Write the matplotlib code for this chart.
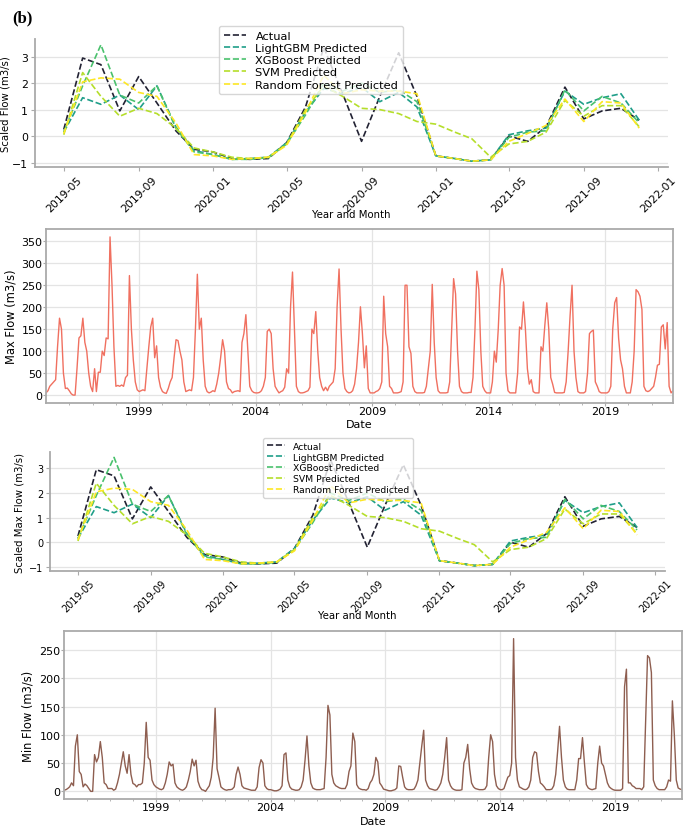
import matplotlib
matplotlib.use("Agg")
import matplotlib.pyplot as plt
import matplotlib.dates as mdates
import pandas as pd

# monthly test period for the scaled panels (2019-05 .. 2021-12)
months = pd.date_range("2019-05-01", "2021-12-01", freq="MS")

actual = [0.25, 2.95, 2.7, 0.95, 2.25, 1.25, 0.2, -0.5,
          -0.6, -0.85, -0.88, -0.85, -0.25, 1.1, 3.35, 1.6, -0.2, 1.5, 3.15, 1.5,
          -0.75, -0.85, -0.95, -0.9, 0.0, -0.2, 0.35, 1.85, 0.65, 0.95, 1.05, 0.6]
lgbm = [0.15, 1.45, 1.2, 1.55, 1.0, 1.9, 0.35, -0.55,
        -0.7, -0.88, -0.85, -0.8, -0.25, 0.9, 1.8, 1.6, 1.85, 1.3, 1.65, 1.1,
        -0.75, -0.85, -0.95, -0.9, 0.05, 0.2, 0.3, 1.7, 1.2, 1.45, 1.6, 0.6]
xgb = [0.15, 1.9, 3.45, 1.55, 1.25, 1.9, 0.3, -0.6,
       -0.7, -0.88, -0.88, -0.82, -0.3, 0.8, 2.0, 1.7, 2.0, 1.65, 1.75, 1.3,
       -0.75, -0.85, -0.95, -0.9, -0.05, 0.15, 0.2, 1.75, 0.95, 1.5, 1.25, 0.5]
svm = [0.05, 2.4, 1.5, 0.75, 1.05, 0.85, 0.3, -0.45,
       -0.6, -0.8, -0.85, -0.8, -0.3, 1.0, 1.9, 1.5, 1.05, 1.0, 0.85, 0.55,
       0.45, 0.15, -0.1, -0.8, -0.3, -0.2, 0.15, 1.35, 0.75, 1.15, 1.15, 0.35]
rf = [0.1, 2.05, 2.2, 2.15, 1.65, 1.5, 0.5, -0.7,
      -0.75, -0.88, -0.85, -0.8, -0.35, 0.9, 2.3, 1.6, 1.75, 1.7, 1.7, 1.6,
      -0.75, -0.85, -0.95, -0.9, -0.2, 0.1, 0.4, 1.4, 0.55, 1.3, 1.25, 0.3]

labels = ["Actual", "LightGBM Predicted", "XGBoost Predicted",
          "SVM Predicted", "Random Forest Predicted"]
colors = ["#222233", "#1f9e89", "#4ac16d", "#b5de2b", "#fde725"]

# monthly flow record 1995-01 .. 2021-12, one row per year
flow_dates = pd.date_range("1995-01-01", "2021-12-01", freq="MS")
max_flow = [
    5, 10, 20, 25, 30, 35, 110, 175, 150, 50, 15, 16,      # 1995
    10, 3, 0, 0, 60, 130, 135, 175, 120, 100, 50, 20,      # 1996
    8, 60, 8, 52, 52, 100, 90, 130, 128, 360, 250, 110,    # 1997
    20, 22, 20, 23, 20, 40, 45, 272, 150, 80, 30, 12,      # 1998
    8, 10, 12, 10, 60, 110, 155, 175, 85, 112, 40, 18,     # 1999
    8, 5, 4, 15, 30, 40, 85, 126, 124, 100, 80, 30,        # 2000
    8, 10, 12, 10, 40, 150, 275, 150, 175, 80, 20, 8,      # 2001
    5, 7, 10, 8, 25, 50, 85, 126, 100, 30, 15, 12,         # 2002
    5, 8, 9, 10, 8, 120, 140, 183, 100, 20, 10, 6,         # 2003
    5, 5, 6, 10, 20, 40, 145, 150, 140, 60, 20, 12,        # 2004
    5, 8, 10, 18, 60, 50, 200, 280, 150, 20, 8, 5,         # 2005
    5, 6, 8, 10, 18, 150, 140, 190, 100, 40, 20, 10,       # 2006
    18, 10, 20, 25, 30, 60, 200, 287, 150, 50, 15, 8,      # 2007
    5, 6, 10, 25, 60, 120, 201, 140, 62, 112, 15, 5,       # 2008
    5, 5, 8, 10, 15, 30, 225, 140, 110, 20, 15, 5,         # 2009
    5, 5, 6, 8, 30, 250, 250, 110, 95, 20, 8, 5,           # 2010
    5, 5, 5, 6, 20, 60, 100, 252, 120, 40, 10, 5,          # 2011
    5, 5, 5, 6, 30, 150, 265, 230, 100, 20, 8, 5,          # 2012
    5, 5, 6, 6, 40, 150, 282, 240, 100, 20, 10, 5,         # 2013
    5, 5, 30, 100, 75, 150, 250, 288, 250, 50, 10, 5,      # 2014
    5, 5, 5, 50, 155, 150, 212, 150, 60, 25, 35, 8,        # 2015
    5, 5, 5, 110, 100, 160, 210, 150, 40, 25, 6, 5,        # 2016
    5, 5, 5, 6, 30, 100, 180, 250, 100, 40, 8, 5,          # 2017
    5, 5, 8, 50, 140, 145, 148, 30, 20, 8, 5, 5,           # 2018
    5, 5, 8, 20, 150, 210, 222, 130, 80, 60, 20, 5,        # 2019
    5, 5, 30, 100, 240, 235, 225, 195, 20, 10, 8, 10,      # 2020
    15, 20, 40, 68, 70, 155, 160, 105, 165, 20, 5, 10,     # 2021
]
min_flow = [
    2, 3, 5, 8, 15, 10, 80, 100, 35, 30, 8, 13,            # 1995
    10, 5, 0, 0, 65, 52, 60, 88, 60, 15, 12, 5,            # 1996
    5, 5, 2, 4, 15, 30, 50, 70, 45, 32, 65, 30,            # 1997
    14, 12, 8, 12, 12, 15, 50, 122, 60, 55, 20, 12,        # 1998
    8, 6, 4, 3, 5, 15, 30, 52, 45, 48, 15, 8,              # 1999
    5, 3, 2, 4, 8, 20, 35, 57, 45, 55, 18, 8,              # 2000
    3, 2, 0, 5, 10, 25, 60, 147, 40, 25, 8, 5,             # 2001
    3, 2, 3, 3, 4, 8, 30, 43, 30, 10, 6, 5,                # 2002
    4, 3, 2, 2, 2, 8, 42, 56, 50, 10, 5, 3,                # 2003
    3, 2, 1, 1, 2, 4, 10, 65, 68, 20, 8, 4,                # 2004
    3, 2, 2, 3, 8, 20, 55, 98, 45, 15, 6, 4,               # 2005
    3, 3, 3, 4, 5, 60, 152, 135, 30, 15, 10, 8,            # 2006
    6, 5, 5, 5, 12, 35, 45, 103, 88, 12, 6, 4,             # 2007
    3, 3, 2, 5, 15, 20, 30, 60, 52, 15, 10, 4,             # 2008
    3, 2, 1, 1, 2, 3, 6, 45, 44, 25, 8, 4,                 # 2009
    3, 3, 3, 4, 10, 20, 50, 80, 108, 20, 10, 5,            # 2010
    4, 3, 2, 3, 8, 15, 30, 60, 95, 20, 10, 5,              # 2011
    3, 2, 2, 2, 3, 50, 60, 83, 40, 15, 8, 5,               # 2012
    4, 3, 3, 3, 4, 10, 60, 100, 88, 30, 10, 5,             # 2013
    3, 3, 5, 15, 25, 28, 50, 270, 60, 20, 8, 6,            # 2014
    4, 3, 4, 8, 20, 60, 70, 68, 35, 15, 12, 8,             # 2015
    3, 3, 3, 4, 10, 30, 70, 115, 60, 20, 8, 4,             # 2016
    3, 3, 3, 3, 20, 58, 58, 95, 50, 12, 6, 4,              # 2017
    3, 4, 5, 50, 80, 50, 45, 30, 15, 8, 5, 3,              # 2018
    2, 2, 2, 2, 5, 185, 216, 15, 15, 10, 8, 5,             # 2019
    5, 5, 3, 8, 120, 240, 236, 210, 20, 10, 5, 3,          # 2020
    3, 3, 3, 8, 20, 18, 160, 100, 20, 6, 4, 3,             # 2021
]
major_years = [1999, 2004, 2009, 2014, 2019]

grid_col = "#e4e4e4"
spine_col = "#aaaaaa"

fig = plt.figure(figsize=(6.85, 8.29), dpi=100)
fig.text(0.018, 0.988, "(b)", fontsize=12, fontweight="bold",
         family="Liberation Serif", va="top")


def scaled_panel(rect, ylabel, tick_fs, lab_fs, leg_fs, leg_xy, ylab_x):
    ax = fig.add_axes(rect)
    for vals, lab, col in zip([actual, lgbm, xgb, svm, rf], labels, colors):
        ax.plot(months, vals, "--", color=col, lw=1.2, label=lab)
    ax.set_yticks([-1, 0, 1, 2, 3])
    ax.xaxis.set_major_locator(mdates.MonthLocator(bymonth=(1, 5, 9)))
    ax.xaxis.set_major_formatter(mdates.DateFormatter("%Y-%m"))
    ax.tick_params(labelsize=tick_fs, color=spine_col, length=3, pad=2)
    plt.setp(ax.get_xticklabels(), rotation=45)
    ax.grid(axis="y", color=grid_col, lw=0.9)
    ax.set_axisbelow(True)
    for s in ["top", "right"]:
        ax.spines[s].set_visible(False)
    for s in ["left", "bottom"]:
        ax.spines[s].set_color(spine_col)
        ax.spines[s].set_linewidth(1.3)
    ax.set_ylabel(ylabel, fontsize=lab_fs)
    ax.yaxis.set_label_coords(ylab_x, 0.5)
    ax.set_xlabel("Year and Month", fontsize=lab_fs)
    ax.xaxis.set_label_coords(0.5, -0.33)
    ax.legend(loc="upper left", bbox_to_anchor=leg_xy, bbox_transform=fig.transFigure,
              borderaxespad=0, fontsize=leg_fs, labelspacing=0.2)
    return ax


def flow_panel(rect, vals, col, ylabel, yticks, ylab_x, xlab_y):
    ax = fig.add_axes(rect)
    ax.plot(flow_dates, vals, color=col, lw=1.0)
    ax.set_xlim(flow_dates[0], flow_dates[-1])
    ax.set_yticks(yticks)
    ax.set_xticks([pd.Timestamp(f"{y}-01-01") for y in major_years])
    ax.set_xticklabels([str(y) for y in major_years])
    ax.set_xticks([pd.Timestamp(f"{y}-01-01") for y in range(1996, 2022)], minor=True)
    ax.tick_params(labelsize=8, color=spine_col, length=2, pad=0.5)
    ax.tick_params(which="minor", length=1.5, color=spine_col)
    ax.grid(color=grid_col, lw=0.9)
    ax.set_axisbelow(True)
    for s in ax.spines.values():
        s.set_color(spine_col)
        s.set_linewidth(1.3)
    ax.set_ylabel(ylabel, fontsize=8.3)
    ax.yaxis.set_label_coords(ylab_x, 0.5)
    ax.set_xlabel("Date", fontsize=8)
    ax.xaxis.set_label_coords(0.5, xlab_y)
    return ax


scaled_panel([35 / 685, 1 - 168 / 829, 633 / 685, 128 / 829],
             "Scaled Flow (m3/s)", 7.8, 7.3, 8.2, (219 / 685, 1 - 27 / 829), -0.038)
flow_panel([46 / 685, 1 - 404 / 829, 627 / 685, 174 / 829],
           max_flow, "#f07060", "Max Flow (m3/s)", range(0, 351, 50), -0.046, -0.092)
scaled_panel([50 / 685, 1 - 572 / 829, 615 / 685, 119 / 829],
             "Scaled Max Flow (m3/s)", 7, 7.3, 6.7, (263 / 685, 1 - 439 / 829), -0.041)
flow_panel([64 / 685, 1 - 800 / 829, 618 / 685, 168 / 829],
           min_flow, "#8e5e50", "Min Flow (m3/s)", range(0, 251, 50), -0.047, -0.1)

fig.savefig("out.png", dpi=100)
